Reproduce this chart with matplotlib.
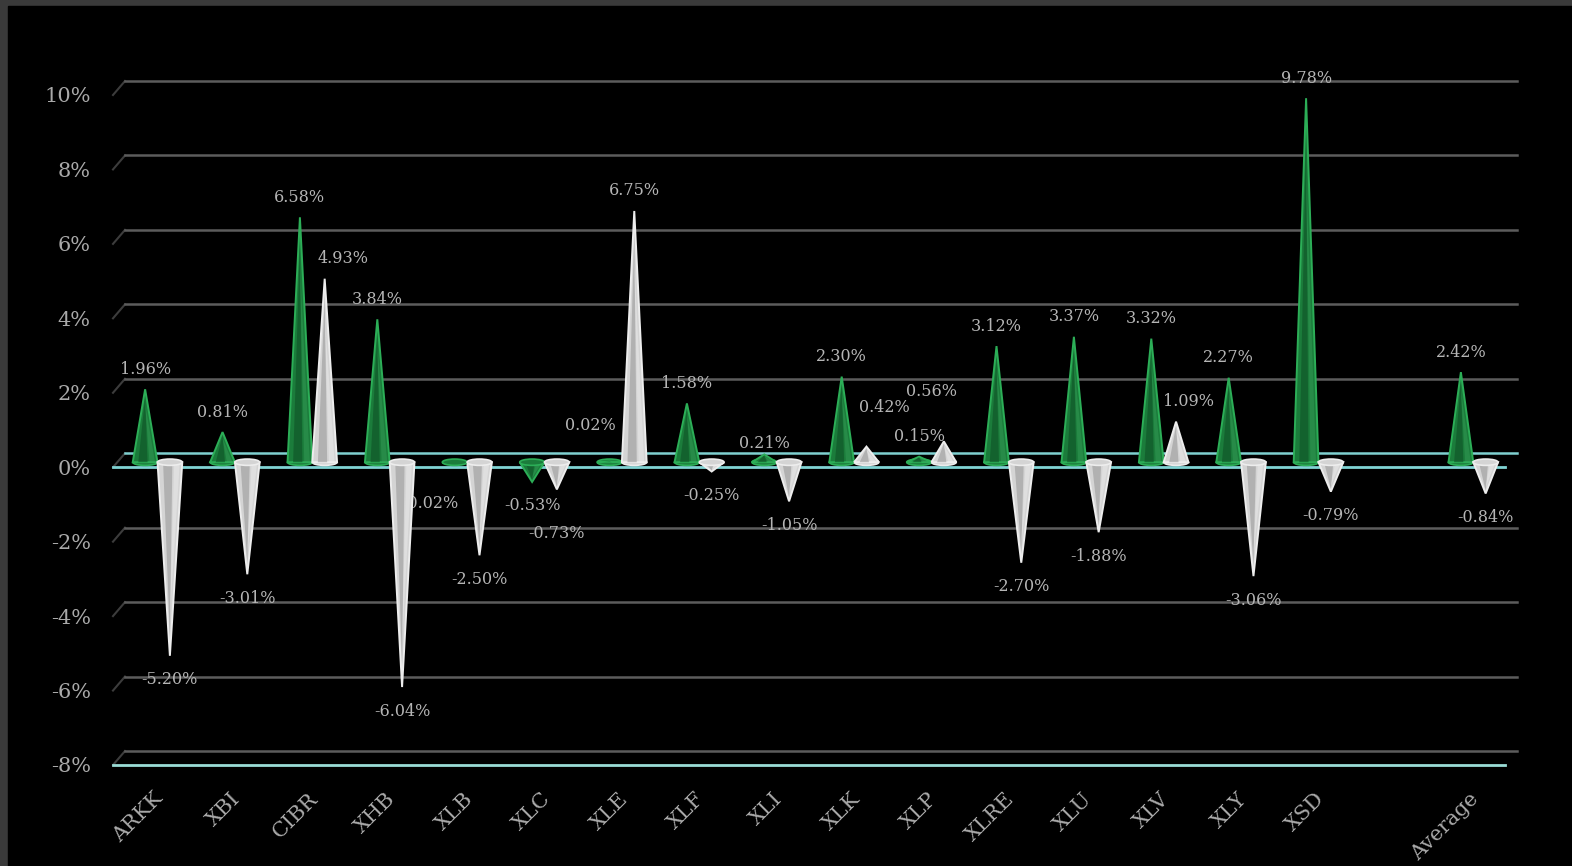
import matplotlib
matplotlib.use('Agg')
import matplotlib.pyplot as plt
from matplotlib.patches import Polygon, Rectangle, Ellipse
from matplotlib.lines import Line2D
from matplotlib.transforms import ScaledTranslation, IdentityTransform

plt.rcParams['font.family'] = ['DejaVu Serif']

# data (percent)
tickers = ['ARKK', 'XBI', 'CIBR', 'XHB', 'XLB', 'XLC', 'XLE', 'XLF', 'XLI', 'XLK',
           'XLP', 'XLRE', 'XLU', 'XLV', 'XLY', 'XSD', '', 'Average']
green_vals = [1.96, 0.81, 6.58, 3.84, -0.02, -0.53, 0.02, 1.58, 0.21, 2.30,
              0.15, 3.12, 3.37, 3.32, 2.27, 9.78, None, 2.42]
silver_vals = [-5.20, -3.01, 4.93, -6.04, -2.50, -0.73, 6.75, -0.25, -1.05, 0.42,
               0.56, -2.70, -1.88, 1.09, -3.06, -0.79, None, -0.84]
y_ticks = [-8, -6, -4, -2, 0, 2, 4, 6, 8, 10]

# label nudges in pixels (dx, dy) where the chart moved a label aside
nudge = {('g', 'XLB'): (-24, -17), ('s', 'XLC'): (0, -20), ('g', 'XLE'): (-19, 16),
         ('s', 'CIBR'): (18, 0), ('s', 'XLK'): (18, 19), ('s', 'XLP'): (-12, 30),
         ('s', 'XLV'): (12, 0), ('g', 'XLI'): (0, -9)}

W, H = 1572, 866
fig = plt.figure(figsize=(W / 100, H / 100), dpi=100, facecolor='#3a3a3a')
fig.patches.append(Rectangle((8 / W, 0), 1, (H - 6) / H, transform=fig.transFigure,
                             color='black', zorder=-5))

ax = fig.add_axes([113 / W, (H - 765) / H, (1505 - 113) / W, (765 - 95) / H])
ax.set_zorder(2)
ax.set_facecolor('none')
ax.set_xlim(-0.575, 17.41)
ax.set_ylim(-8, 10)
for s in ax.spines.values():
    s.set_visible(False)
ax.set_xticks([])
ax.set_yticks(y_ticks, labels=[f'{t}%' for t in y_ticks])
ax.tick_params(axis='y', length=0, pad=16, labelcolor='#a9a9a9', labelsize=15)


def px(dx, dy):
    return ScaledTranslation(dx / 100, dy / 100, fig.dpi_scale_trans)


back = ax.transData + px(12, 14)
x0, x1 = ax.get_xlim()

# back wall gridlines + little side-wall diagonals
for t in y_ticks:
    col = '#7fd0d0' if t == 0 else '#5c5c5c'
    ax.plot([x0, x1], [t, t], color=col, lw=1.8, transform=back, clip_on=False, zorder=1)
    p = ax.transData.transform((x0, t))
    fig.add_artist(Line2D([p[0], p[0] + 12], [p[1], p[1] + 14], color='#3c3c3c', lw=1.5,
                          transform=IdentityTransform()))

# floor / front lines
ax.plot([x0, x1], [0, 0], color='#80d4d4', lw=2, clip_on=False, zorder=1.5)
ax.plot([x0, x1], [-8, -8], color='#9adcd6', lw=2, clip_on=False, zorder=1.5)

cone_tr = ax.transData + px(0, 5)
half = 0.16


def cone(xc, v, face, edge, inner, shade):
    ax.add_patch(Polygon([(xc - half, 0), (xc + half, 0), (xc, v)], closed=True,
                         fc=face, ec=edge, lw=1.4, transform=cone_tr, zorder=3))
    ax.add_patch(Polygon([(xc - half * 0.55, 0), (xc + half * 0.2, 0), (xc, v * 0.9)],
                         closed=True, fc=inner, ec='none', alpha=0.6,
                         transform=cone_tr, zorder=3.1))
    ax.add_patch(Polygon([(xc + half * 0.35, 0), (xc + half * 0.8, 0), (xc, v * 0.8)],
                         closed=True, fc=shade, ec='none', alpha=0.35,
                         transform=cone_tr, zorder=3.1))
    ax.add_patch(Ellipse((xc, 0), 2 * half, 0.17, fc=face, ec=edge, lw=1.2,
                         transform=cone_tr, zorder=3.2 if v < 0 else 2.9))


def label(key, name, xc, v):
    dx, dy = nudge.get((key, name), (0, 0))
    off = 20 if v >= 0 else -24
    ax.text(xc, v, f'{v:.2f}%', ha='center', va='center', fontsize=11.5,
            color='#b5b5b5', transform=ax.transData + px(dx, 5 + off + dy), zorder=2.5)


for i, name in enumerate(tickers):
    g = green_vals[i]
    s = silver_vals[i]
    if g is not None:
        cone(i - half, g, '#1b7c3b', '#2cae57', '#0e5226', '#3fa862')
        label('g', name, i - half, g)
    if s is not None:
        cone(i + half, s, '#d4d4d4', '#ededed', '#9a9a9a', '#f4f4f4')
        label('s', name, i + half, s)
    if name:
        ax.text(i, -8, name, rotation=45, rotation_mode='anchor', ha='right', va='top',
                fontsize=15, color='#a9a9a9', transform=ax.transData + px(-4, -24))

fig.savefig('out.png', dpi=100, facecolor=fig.get_facecolor())
